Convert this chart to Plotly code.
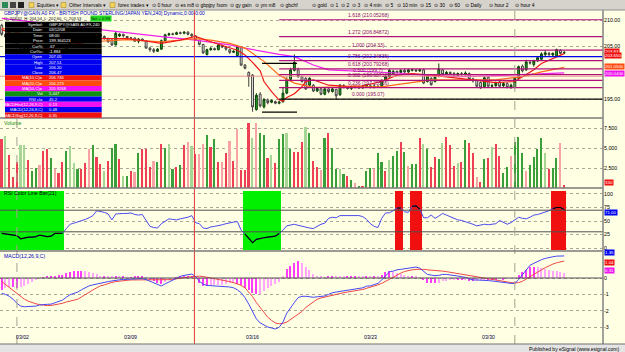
import plotly.graph_objects as go

W, H = 625, 352
PL, PR, PT, PB = 0, 603, 10, 344


def PX(x):
    return (x - PL) / (PR - PL)


def PY(y):
    return (PB - y) / (PB - PT)


# ---------------- data (4-hour bars, index 0..148) ----------------
opens = [209.0, 207.3, 206.8, 206.3, 205.9, 205.2, 204.6, 204.8, 204.4, 204.2, 204.5, 204.0, 204.1, 203.8, 204.0, 204.3, 204.1, 204.3, 205.1,
         205.7,
         205.7, 205.9, 206.1, 206.2, 206.5, 206.7, 207.2, 206.9, 206.5, 206.2, 205.3, 207.0, 207.3, 206.9, 206.6, 206.6, 206.0, 206.4, 206.1, 204.7,
         204.4, 204.1, 204.5, 206.1, 207.2, 207.4, 207.3, 207.6, 207.5, 207.7, 207.3, 207.0, 206.2, 205.4, 203.5, 204.4,
         204.6,
         204.4, 205.2, 204.9, 204.4, 203.9, 203.3, 204.8, 201.5, 200.1, 199.6, 193.1, 196.0, 193.6, 194.9, 194.5, 194.6, 194.3, 194.6, 196.2, 198.8,
         200.5, 200.6, 199.3, 199.0, 197.7, 197.7, 196.6, 197.0, 196.0, 197.0, 196.5, 196.9, 195.9, 197.6, 197.3, 197.1,
         197.4,
         197.4, 197.2, 197.5, 197.6, 197.3, 197.5, 197.5, 198.6, 199.3, 199.8, 200.3, 200.1, 200.5, 200.2, 200.5, 200.6, 200.4, 200.6, 198.4, 199.0,
         198.4, 199.4, 200.6, 199.8, 200.1, 199.9, 199.6, 199.9, 199.7, 199.9, 198.9, 198.6, 198.2, 197.4, 199.2,
         197.5,
         197.6, 198.3, 197.6, 198.0, 197.3, 197.4, 199.0, 201.3, 200.6, 202.0, 201.6, 202.3, 202.6, 203.5, 203.7, 203.4, 203.2, 204.3, 203.8]
highs = [209.3, 207.6, 207.1, 206.6, 206.2, 205.5, 205.1, 205.0, 204.7, 204.8, 204.7, 204.4, 204.3, 204.2, 204.5, 204.6, 204.5, 205.3, 205.9,
         206.0,
         206.1, 206.3, 206.4, 206.7, 206.9, 207.4, 207.4, 207.1, 206.7, 206.4, 207.9, 207.5, 207.4, 207.0, 206.8, 206.7, 206.6, 206.5, 206.2, 204.9,
         204.7, 204.7, 206.3, 207.4, 207.6, 207.6, 207.8, 207.8, 207.9, 207.9, 207.5, 207.1, 206.3, 205.5, 204.6, 204.9,
         204.8,
         205.5, 205.4, 205.0, 204.6, 204.3, 205.3, 205.0, 201.7, 200.3, 199.8, 196.2, 196.4, 195.3, 195.2, 195.0, 194.8, 194.7, 197.4, 199.2, 201.0,
         203.5, 201.0, 199.5, 199.2, 199.2, 197.9, 197.3, 197.2, 197.2, 197.3, 197.2, 197.0, 197.9, 197.9, 197.5, 197.6,
         197.6,
         197.6, 197.7, 197.9, 197.8, 197.8, 197.7, 198.8, 199.5, 200.8, 200.6, 200.5, 200.7, 200.8, 200.8, 200.9, 200.8, 200.8, 200.8, 199.7, 199.2,
         199.5, 201.8, 200.8, 200.4, 200.3, 200.2, 200.1, 200.2, 200.3, 200.1, 199.1, 198.8, 198.4, 199.4, 199.4,
         198.0,
         198.4, 198.6, 198.3, 198.2, 198.0, 199.2, 201.4, 201.6, 202.5, 202.4, 202.5, 203.2, 203.9, 204.3, 204.0, 203.9, 204.6, 204.5, 204.2]
lows = [207.0, 206.6, 206.0, 205.6, 205.0, 204.3, 204.3, 204.1, 203.9, 204.0, 203.8, 203.7, 203.5, 203.5, 203.8, 203.9, 203.9, 204.2, 204.9,
        205.4,
        205.4, 205.7, 205.8, 206.0, 206.3, 206.5, 206.7, 206.3, 205.7, 205.1, 205.2, 206.8, 206.7, 206.4, 206.4, 205.9, 205.6, 206.0, 204.6, 204.0,
        203.8, 204.0, 204.4, 206.0, 207.0, 207.1, 207.2, 207.3, 207.3, 207.1, 206.8, 206.1, 205.2, 203.6, 203.3, 204.2,
        204.3,
        204.3, 204.7, 204.2, 203.6, 203.8, 203.1, 201.3, 200.7, 197.4, 192.7, 192.9, 193.5, 193.3, 194.1, 194.3, 194.1, 194.1, 194.4, 196.0, 198.6,
        200.3, 199.1, 198.2, 196.8, 197.5, 196.4, 196.4, 195.8, 195.8, 196.2, 196.3, 195.0, 195.7, 197.1, 196.9, 196.8,
        197.1,
        197.0, 197.0, 197.3, 197.1, 197.1, 197.2, 197.3, 198.4, 199.1, 199.6, 199.9, 199.9, 200.0, 200.0, 200.3, 200.2, 200.2, 197.9, 198.2, 197.6,
        198.2, 199.2, 199.5, 199.6, 199.7, 199.4, 199.4, 199.5, 199.5, 198.6, 198.2, 197.3, 197.0, 197.2, 197.3,
        197.3,
        197.4, 197.3, 197.3, 197.1, 197.0, 197.1, 198.8, 200.1, 200.4, 201.6, 201.2, 202.1, 202.4, 203.1, 203.2, 203.1, 203.0, 203.5, 203.6]
closes = [207.3, 206.8, 206.3, 205.9, 205.2, 204.6, 204.8, 204.4, 204.2, 204.5, 204.0, 204.1, 203.8, 204.0, 204.3, 204.1, 204.3, 205.1, 205.7,
          205.7,
          205.9, 206.1, 206.2, 206.5, 206.7, 207.2, 206.9, 206.5, 205.9, 205.3, 207.5, 207.3, 207.0, 206.6, 206.6, 206.0, 206.4, 206.2, 204.7, 204.4,
          204.1, 204.5, 206.1, 207.2, 207.4, 207.3, 207.6, 207.5, 207.7, 207.3, 207.0, 206.3, 205.4, 203.8, 204.4, 204.6,
          204.4,
          205.3, 204.9, 204.5, 203.9, 204.1, 205.0, 201.5, 200.9, 199.3, 193.6, 195.8, 193.8, 195.0, 194.4, 194.8, 194.3, 194.5, 196.2, 198.8, 200.6,
          202.0, 199.3, 198.4, 197.0, 199.0, 196.6, 197.1, 196.0, 197.0, 196.5, 197.0, 195.7, 197.7, 197.3, 197.1, 197.4,
          197.4,
          197.2, 197.5, 197.6, 197.3, 197.5, 197.4, 198.6, 199.3, 200.5, 200.3, 200.1, 200.5, 200.2, 200.6, 200.6, 200.4, 200.6, 198.1, 199.4, 197.8,
          199.3, 200.8, 199.7, 200.1, 199.9, 199.6, 199.9, 199.7, 200.0, 198.8, 198.5, 197.5, 197.2, 199.1, 197.5,
          197.6,
          198.1, 197.5, 198.0, 197.3, 197.7, 199.0, 201.2, 200.4, 202.1, 201.9, 202.3, 202.9, 203.6, 203.8, 203.5, 203.7, 204.4, 203.7, 203.83]

volume = [6083, 6500, 4125, 1333, 3290, 5375, 5375, 3500, 2170, 2460, 2875, 4625, 4830, 3700, 2330, 1900, 3200, 4670, 5250, 3080,
          2330, 2330, 3170, 4830, 5375, 3830, 3000, 2125, 3420, 4960, 5460, 3580, 1500, 1540, 2125, 2040, 4330, 4875, 4875, 2670,
          3375, 3290, 5500, 4960, 5500, 2330, 2670, 2875, 5375, 5710, 5250, 4250, 4250, 5500, 6625, 5170, 6080, 3290, 3290, 4420,
          5920, 3420, 7375, 2250, 2250, 8170, 6210, 8080, 6830, 6625, 3790, 4125, 3170, 6080, 6710, 6920, 4875, 4460, 4460, 5710,
          7670, 6830, 3420, 2670, 2250, 6210, 6830, 5040, 2375, 2375, 1750, 1540, 1000, 580, 250, 290, 2125, 2460, 2330, 4330,
          3290, 2170, 3500, 4000, 4670, 5790, 4460, 2750, 3000, 3000, 6290, 5500, 4875, 2580, 3830, 3625, 5670, 6420, 5375, 2750,
          3080, 3290, 6000, 5580, 4330, 1420, 710, 3625, 3700, 5080, 5500, 4000, 1830, 2670, 4040, 5750, 6420, 4330, 2125, 2875,
          3830, 4875, 6210, 4420, 2375, 2540, 3700, 5580, 330]
volume_shade = ["r", "lg", "r", "r", "r", "lg", "lg", "r", "g", "g", "lr", "r", "r", "g", "lr", "r", "r", "g", "lg", "lg",
                "g", "r", "r", "lr", "g", "r", "r", "lg", "r", "g", "g", "r", "lg", "g", "r", "lr", "g", "r", "r", "r",
                "lr", "g", "r", "g", "lg", "g", "r", "g", "r", "lr", "lg", "r", "lr", "lr", "g", "r", "g", "r", "lr", "r",
                "lr", "r", "lr", "r", "r", "r", "lg", "lr", "g", "g", "r", "lg", "r", "g", "g", "lg", "g", "r", "r", "r",
                "lg", "g", "r", "r", "lr", "g", "r", "g", "g", "lg", "g", "r", "g", "lr", "g", "r", "g", "g", "lr", "g",
                "g", "r", "lg", "g", "g", "r", "g", "lr", "g", "g", "r", "lg", "g", "r", "r", "g", "lg", "r", "r", "r",
                "lg", "r", "g", "r", "r", "lr", "r", "g", "r", "lg", "r", "r", "g", "g", "lr", "g", "g", "g", "lr", "g",
                "g", "g", "g", "lg", "r", "g", "g", "lr", "r"]

rsi = [27, 26, 25, 25, 23, 17, 19, 20, 20, 21, 24, 22, 21, 22, 27, 27, 27, 36, 44, 46,
       48, 51, 53, 56, 60, 69, 68, 66, 63, 52, 63, 64, 64, 64, 65, 62, 61, 62, 50, 40,
       38, 37, 45, 50, 54, 53, 52, 54, 55, 57, 60, 47, 45, 37, 36, 39, 40,
       41, 43, 45, 47, 48, 49, 33, 26, 18, 10, 16, 18, 19, 20, 21, 22, 27, 33, 41, 43,
       44, 42, 40, 38, 37, 36, 40, 44, 46, 55, 57, 56, 60, 60, 60, 60, 60,
       60, 58, 53, 45, 40, 38, 55, 65, 65, 69, 74, 74, 67, 66, 77, 78, 72, 56, 56, 61,
       55, 59, 64, 61, 58, 55, 52, 51, 49, 46, 44, 41, 43, 44, 43, 44,
       45, 51, 48, 44, 47, 52, 57, 55, 54, 57, 61, 62, 64, 66, 69, 73, 75, 75, 71]

macd = [-0.94, -1.0, -1.12, -1.3, -1.55, -1.72, -1.76, -1.76, -1.76, -1.72, -1.65, -1.61, -1.61, -1.6, -1.52, -1.44, -1.35, -1.18, -1.02,
        -0.94,
        -0.86, -0.72, -0.6, -0.48, -0.42, -0.36, -0.33, -0.27, -0.22, -0.18, -0.13, -0.11, -0.09, -0.08, -0.06, -0.05, -0.04, -0.04,
        -0.1, -0.19, -0.3, -0.4, -0.49, -0.36, -0.25, -0.12, 0.0, 0.1, 0.16, 0.21, 0.24, 0.1, -0.2, -0.38, -0.45, -0.47,
        -0.48,
        -0.49, -0.51, -0.52, -0.55, -0.6, -0.72, -0.9, -1.2, -1.6, -2.05, -2.5, -2.75, -2.9, -3.0, -3.06, -3.12, -3.02, -2.7, -2.15,
        -1.8, -1.5, -1.2, -1.12, -1.12, -1.15, -1.18, -1.15, -1.12, -1.1, -1.0, -0.9, -0.86, -0.82, -0.78, -0.74, -0.7,
        -0.67,
        -0.65, -0.6, -0.5, -0.48, -0.4, -0.33, -0.12, 0.15, 0.38, 0.42, 0.5, 0.53, 0.57, 0.6, 0.65, 0.67, 0.6, 0.38, 0.22, 0.18,
        0.14, 0.16, 0.22, 0.22, 0.2, 0.18, 0.12, 0.08, 0.04, -0.05, -0.12, -0.12, -0.12, -0.12, -0.16,
        -0.18,
        -0.2, -0.22, -0.27, -0.3, -0.33, -0.33, -0.1, 0.18, 0.45, 0.78, 0.9, 1.02, 1.12, 1.2, 1.27, 1.3, 1.34, 1.35, 1.35]
macd_signal = [-0.22, -0.4, -0.58, -0.75, -0.95, -1.14, -1.3, -1.42, -1.51, -1.58, -1.63, -1.67, -1.69, -1.68, -1.65, -1.61, -1.55, -1.47, -1.4,
               -1.35,
               -1.3, -1.16, -1.0, -0.85, -0.73, -0.6, -0.48, -0.42, -0.33, -0.27, -0.22, -0.18, -0.16, -0.14, -0.12, -0.12, -0.12, -0.12,
               -0.12, -0.12, -0.12, -0.12, -0.12, -0.12, -0.12, -0.1, -0.05, -0.03, 0.02, 0.06, 0.09, 0.12, 0.11, 0.09, 0.05, 0.0,
               -0.03,
               -0.06, -0.1, -0.16, -0.22, -0.28, -0.35, -0.45, -0.6, -0.85, -1.14, -1.5, -1.8, -2.1, -2.4, -2.6, -2.75, -2.8, -2.78, -2.7,
               -2.55, -2.4, -2.25, -2.05, -1.8, -1.65, -1.45, -1.3, -1.22, -1.16, -1.1, -1.05, -1.0, -0.95, -0.9, -0.86, -0.82,
               -0.79,
               -0.76, -0.7, -0.63, -0.57, -0.5, -0.42, -0.33, -0.2, -0.05, 0.08, 0.2, 0.3, 0.4, 0.46, 0.5, 0.53, 0.55, 0.53, 0.5, 0.49,
               0.47, 0.45, 0.42, 0.39, 0.35, 0.3, 0.26, 0.22, 0.17, 0.12, 0.08, 0.04, 0.0, -0.04, -0.08,
               -0.1,
               -0.12, -0.16, -0.2, -0.24, -0.28, -0.3, -0.28, -0.2, -0.05, 0.08, 0.2, 0.35, 0.5, 0.63, 0.75, 0.85, 0.93, 1.0, 1.04]

ma10_bar = [0, 12, 20, 24, 29, 33, 38, 42, 47, 51, 55, 60, 62, 64, 66, 68, 69, 71, 73, 74, 75, 77, 79, 80, 82, 86, 91, 95,
            100, 104, 108, 113, 117, 121, 126, 130, 135, 137, 140, 142, 145, 148]
ma10_val = [208.2, 204.5, 205.4, 206.5, 206.5, 206.5, 206.0, 205.6, 206.2, 206.9, 205.9, 204.7, 204.3, 203.4, 202.0, 200.4, 198.4,
            196.5, 194.9, 194.7, 195.4, 196.1, 197.4, 198.4, 198.7, 197.7, 197.5, 197.6, 198.4, 199.6, 199.9, 199.6, 199.3, 199.0,
            198.5, 198.2, 198.4, 199.3, 200.6, 201.8, 202.8, 203.65]
ma20_bar = [0, 12, 20, 24, 33, 42, 51, 55, 60, 64, 69, 73, 77, 82, 91, 100, 104, 113, 121, 130, 137, 142, 148]
ma20_val = [208.5, 206.0, 205.6, 205.9, 206.3, 205.9, 206.5, 206.2, 205.6, 204.7, 202.2, 199.6, 198.1, 197.3, 197.4, 197.4,
            197.8, 198.7, 198.7, 198.7, 199.3, 200.2, 201.05]
ma50_bar = [0, 12, 24, 33, 42, 51, 60, 64, 69, 73, 77, 82, 86, 95, 104, 113, 121, 130, 140, 148]
ma50_val = [210.3, 209.3, 208.3, 207.5, 206.85, 206.2, 205.3, 204.7, 204.0, 203.5, 203.1, 201.5, 200.6, 200.3, 200.0, 199.5,
            199.3, 199.5, 199.8, 200.04]

fib_low, fib_high = 195.07, 204.33
fib_ratios = [0.0, 0.236, 0.382, 0.5, 0.618, 0.786, 1.0, 1.272, 1.618]
fib_start_bar = 73
hline_levels = [203.1, 199.4]
bracket_levels = [201.8, 192.6]
bracket_bars = [68.5, 77.7]

week_bars = [5.5, 34, 66, 97, 128]
week_labels = ["03/02", "03/09", "03/16", "03/23", "03/30"]
month_sep_bars = [4, 135]
cursor_bar = 50.7

bars = list(range(len(closes)))

# ---------------- styles ----------------
BG = "#FFFFE4"
FONT = "Liberation Sans"
VOL_COLORS = {"r": "#EE4055", "g": "#3A9E3A", "lr": "#F7A3A8", "lg": "#A6D596"}
X_RANGE = [-0.45, 158.2]

D_MACD = [0, PY(251)]
D_RSI = [PY(251), PY(188)]
D_VOL = [PY(188), PY(118)]
D_PRICE = [PY(118), 1]

fig = go.Figure()

# price
fig.add_trace(go.Candlestick(
    x=bars, open=opens, high=highs, low=lows, close=closes, yaxis="y4",
    increasing=dict(fillcolor="#1FA81F", line=dict(color="#0B3D0B", width=1)),
    decreasing=dict(fillcolor="#EEEEEE", line=dict(color="#404040", width=1)),
    whiskerwidth=0, showlegend=False, hoverinfo="skip"))
for bx, vals, col in [(ma50_bar, ma50_val, "#F020F0"), (ma20_bar, ma20_val, "#FF6A1A"), (ma10_bar, ma10_val, "#F01818")]:
    fig.add_trace(go.Scatter(x=bx, y=vals, mode="lines", yaxis="y4", line=dict(color=col, width=1.2),
                             showlegend=False, hoverinfo="skip"))

# volume
fig.add_trace(go.Bar(x=bars, y=volume, yaxis="y3", width=0.42,
                     marker=dict(color=[VOL_COLORS[s] for s in volume_shade], line=dict(width=0)),
                     showlegend=False, hoverinfo="skip"))

# RSI zone bars, derived from the RSI values
zone_x, zone_c = [], []
for i, v in enumerate(rsi):
    if v < 30:
        zone_x.append(i); zone_c.append("#00F000")
    elif v > 70:
        zone_x.append(i); zone_c.append("#F01010")
fig.add_trace(go.Bar(x=zone_x, y=[109.8] * len(zone_x), base=-3.7, width=1.0, yaxis="y2",
                     marker=dict(color=zone_c, line=dict(width=0)), showlegend=False, hoverinfo="skip"))
fig.add_trace(go.Scatter(x=bars, y=rsi, mode="lines", yaxis="y2", line=dict(color="#4B4BF0", width=1),
                         showlegend=False, hoverinfo="skip"))
rsi_zone_line = [v if (v < 30 or v > 70) else None for v in rsi]
fig.add_trace(go.Scatter(x=bars, y=rsi_zone_line, mode="lines", yaxis="y2", line=dict(color="#000000", width=1.2),
                         showlegend=False, hoverinfo="skip", connectgaps=False))

# MACD
hist = [round(m - s, 3) for m, s in zip(macd, macd_signal)]
hist_col = ["#FF3CFF" if (i == 0 or abs(h) >= abs(hist[i - 1])) else "#FFA6FF" for i, h in enumerate(hist)]
fig.add_trace(go.Bar(x=bars, y=hist, yaxis="y", width=0.32, marker=dict(color=hist_col, line=dict(width=0)),
                     showlegend=False, hoverinfo="skip"))
fig.add_trace(go.Scatter(x=bars, y=macd_signal, mode="lines", yaxis="y", line=dict(color="#F04545", width=1),
                         showlegend=False, hoverinfo="skip"))
fig.add_trace(go.Scatter(x=bars, y=macd, mode="lines", yaxis="y", line=dict(color="#4646F5", width=1),
                         showlegend=False, hoverinfo="skip"))

shapes = []
annotations = []

# fib levels
fib_levels = [fib_low + r * (fib_high - fib_low) for r in fib_ratios]
for r, v in zip(fib_ratios, fib_levels):
    col = "#000000" if r == 0 else "#B0107A"
    shapes.append(dict(type="line", xref="x", yref="y4", x0=fib_start_bar, x1=X_RANGE[1], y0=v, y1=v,
                       line=dict(color=col, width=1.2)))
    txt = f"{r:.3f} ({v:.5f}".rstrip("0").rstrip(".") + ")"
    annotations.append(dict(x=96.5, y=v, xref="x", yref="y4", text=txt, showarrow=False, yanchor="bottom",
                            yshift=0, font=dict(size=5, color="#8A0A6A", family=FONT)))
for lv, col in zip(hline_levels, ["#0000F0", "#E89090"]):
    shapes.append(dict(type="line", xref="paper", yref="y4", x0=0, x1=1, y0=lv, y1=lv,
                       line=dict(color=col, width=1.3 if col == "#0000F0" else 1)))
for lv in bracket_levels:
    shapes.append(dict(type="line", xref="x", yref="y4", x0=bracket_bars[0], x1=bracket_bars[1], y0=lv, y1=lv,
                       line=dict(color="#000000", width=1.2)))

# RSI guide lines and MACD zero
for lv in [70, 30]:
    shapes.append(dict(type="line", xref="paper", yref="y2", x0=0, x1=1, y0=lv, y1=lv,
                       line=dict(color="#505050", width=1)))
shapes.append(dict(type="line", xref="paper", yref="y", x0=0, x1=1, y0=0, y1=0, line=dict(color="#505050", width=1)))

# separators / verticals
for b in month_sep_bars:
    shapes.append(dict(type="line", xref="x", yref="paper", x0=b, x1=b, y0=0, y1=1,
                       line=dict(color="#A8A090", width=1, dash="dash")))
shapes.append(dict(type="line", xref="x", yref="paper", x0=cursor_bar, x1=cursor_bar, y0=0, y1=1,
                   line=dict(color="#E03A3A", width=1)))
for yy in [118, 188, 251]:
    shapes.append(dict(type="line", xref="paper", yref="paper", x0=0, x1=1, y0=PY(yy), y1=PY(yy),
                       line=dict(color="#7A7A7A", width=1.6)))
shapes.append(dict(type="line", xref="paper", yref="paper", x0=1, x1=1, y0=0, y1=1, line=dict(color="#8A8A8A", width=1.6)))

# toolbar and bottom strip
shapes.append(dict(type="rect", xref="paper", yref="paper", x0=0, x1=PX(625), y0=1, y1=PY(0), fillcolor="#D6D3CC",
                   line=dict(width=0), layer="above"))
shapes.append(dict(type="line", xref="paper", yref="paper", x0=0, x1=PX(625), y0=1, y1=1, line=dict(color="#8C8C8C", width=1),
                   layer="above"))
shapes.append(dict(type="rect", xref="paper", yref="paper", x0=0, x1=PX(625), y0=PY(352), y1=0, fillcolor="#E4E4E4",
                   line=dict(width=0), layer="above"))
shapes.append(dict(type="line", xref="paper", yref="paper", x0=0, x1=PX(625), y0=0, y1=0, line=dict(color="#707070", width=1.2),
                   layer="above"))

tool_items = [("Equities ▾", 35), ("Other Intervals ▾", 67), ("forex trades ▾", 116), ("⊙ 0 hour", 150), ("⊙ es m8", 173),
              ("⊙ gbpjpy fxom", 193), ("⊙ gy gain", 228), ("⊙ ym m8", 253), ("⊙ gbchf", 278), ("⊙ gold", 310),
              ("⊙ 1", 328), ("⊙ 2", 339), ("⊙ 3", 350), ("⊙ 4 min", 362), ("⊙ 5", 383), ("⊙ 10 min", 395), ("⊙ 15", 418),
              ("⊙ 30", 432), ("⊙ 60", 447), ("⊙ Daily", 463), ("⊙ hour 2", 487), ("⊙ hour 4", 513)]
for txt, xp in tool_items:
    annotations.append(dict(x=PX(xp), y=PY(5), xref="paper", yref="paper", text=txt, showarrow=False, xanchor="left",
                            yanchor="middle", font=dict(size=5, color="#000000", family=FONT)))
for xp, col in [(2, "#2E8B57"), (10, "#444444"), (18, "#222222")]:
    shapes.append(dict(type="rect", xref="paper", yref="paper", x0=PX(xp), x1=PX(xp + 6), y0=PY(8), y1=PY(2),
                       fillcolor=col, line=dict(width=0), layer="above"))
for xp in [29, 61, 110]:
    shapes.append(dict(type="rect", xref="paper", yref="paper", x0=PX(xp), x1=PX(xp + 5), y0=PY(7.5), y1=PY(2.5),
                       fillcolor="#F2D35A", line=dict(color="#A08020", width=0.5), layer="above"))
annotations.append(dict(x=PX(621), y=PY(348.5), xref="paper", yref="paper", text="Published by eSignal (www.esignal.com)",
                        showarrow=False, xanchor="right", yanchor="middle", font=dict(size=5, color="#000000", family=FONT)))

# title rows
annotations.append(dict(x=PX(2), y=PY(13.3), xref="paper", yref="paper",
                        text="GBPJPY@GAIN A0 FX - BRITISH POUND STERLING/JAPAN YEN,240] Dynamic,0:00-0:00",
                        showarrow=False, xanchor="left", yanchor="middle", font=dict(size=4.9, color="#0000C8", family=FONT)))
annotations.append(dict(x=PX(2), y=PY(18.6), xref="paper", yref="paper",
                        text="O: 203.42  H: 204.54  L: 202.60  C: 203.53",
                        showarrow=False, xanchor="left", yanchor="middle", font=dict(size=4.1, color="#000000", family=FONT)))
annotations.append(dict(x=PX(90), y=PY(18.6), xref="paper", yref="paper", text="Net + 0.93", showarrow=False,
                        xanchor="left", yanchor="middle", bgcolor="#22D822", borderpad=0,
                        font=dict(size=4.1, color="#003300", family=FONT)))

# cursor (data window) box
info_rows = [
    ("Symbol:", "GBPJPY@GAIN A0 FX,240", "#000000"), ("Date:", "03/12/08", "#000000"), ("Time:", "08:00", "#000000"),
    ("Price:", "199.364123", "#000000"), ("Cur%:", ".67", "#000000"), ("Cur%c:", "-1.884", "#000000"),
    ("Open", "207.05", "#0000F0"), ("High", "207.51", "#0000F0"), ("Low", "206.20", "#0000F0"), ("Close", "206.47", "#0000F0"),
    ("MA(10,C)=", "206.746", "#F01010"), ("MA(20,C)=", "206.273", "#FF4A10"), ("MA(50,C)=", "205.9268", "#F010F0"),
    ("Vol", "5,447", "#109010"), ("RSI cl=", "45.2", "#0000F0"), ("MACDHist(12,26,9,C)", "0.13", "#F010F0"),
    ("MACD(12,26,9,C)", "0.48", "#0000F0"), ("MACDSig(12,26,9,C)", "0.35", "#F01010")]
row_top = 21.7
row_h = [5.43] * 6 + [5.25] * 4 + [5.3] * 8
for (lab, val, col), h in zip(info_rows, row_h):
    shapes.append(dict(type="rect", xref="paper", yref="paper", x0=PX(5), x1=PX(101.7), y0=PY(row_top + h), y1=PY(row_top),
                       fillcolor=col, line=dict(width=0), layer="above"))
    yc = PY(row_top + h / 2)
    annotations.append(dict(x=PX(45), y=yc, xref="paper", yref="paper", text=lab, showarrow=False, xanchor="right",
                            yanchor="middle", font=dict(size=4.1, color="#FFFFFF", family=FONT)))
    annotations.append(dict(x=PX(46.5), y=yc, xref="paper", yref="paper", text=val, showarrow=False, xanchor="left",
                            yanchor="middle", font=dict(size=4.1, color="#FFFFFF", family=FONT)))
    row_top += h

# panel titles
annotations.append(dict(x=PX(2), y=PY(123), xref="paper", yref="paper", text="Volume", showarrow=False, xanchor="left",
                        yanchor="middle", font=dict(size=5.2, color="#108A10", family=FONT)))
annotations.append(dict(x=PX(2), y=PY(193.5), xref="paper", yref="paper", text="RSI Color Line Bar(21)", showarrow=False,
                        xanchor="left", yanchor="middle", font=dict(size=5.2, color="#000000", family=FONT)))
annotations.append(dict(x=PX(2), y=PY(256), xref="paper", yref="paper", text="MACD(12,26,9,C)", showarrow=False,
                        xanchor="left", yanchor="middle", font=dict(size=5.2, color="#0000C0", family=FONT)))

# week date labels
for b, t in zip(week_bars, week_labels):
    annotations.append(dict(x=b, y=PY(336.5), xref="x", yref="paper", text=t, showarrow=False, xanchor="center",
                            yanchor="middle", font=dict(size=5.2, color="#000040", family=FONT)))


# right side value tags
def tag(yref, y, text, bg, fg="#FFFFFF", shift=0):
    annotations.append(dict(x=1, y=y, xref="paper", yref=yref, text=text, showarrow=False, xanchor="left", yanchor="middle",
                            xshift=1, yshift=shift, bgcolor=bg, borderpad=0, font=dict(size=4.4, color=fg, family=FONT)))


tag("y4", closes[-1], f"{closes[-1]:.2f}", "#F01010", shift=1)
tag("y4", ma10_val[-1], f"{ma10_val[-1]:.3f}", "#F01010", shift=-2)
tag("y4", ma20_val[-1], f"{ma20_val[-1]:.4f}", "#FF4A10", shift=1)
tag("y4", ma50_val[-1], f"{ma50_val[-1]:.4f}", "#F010F0", shift=-1)
tag("y3", volume[-1], f"{volume[-1]}", "#F01010", shift=3)
tag("y2", rsi[-1], f"{rsi[-1]:.2f}", "#0000F0", shift=-3)
tag("y", macd[-1], f"{macd[-1]:.2f}", "#0000F0", shift=3)
tag("y", macd_signal[-1], f"{macd_signal[-1]:.2f}", "#F01010", shift=-1)
tag("y", hist[-1], f"{hist[-1]:.2f}", "#F010F0", shift=2)

tickfont = dict(size=5.3, color="#000000", family=FONT)
common_y = dict(side="right", anchor="x", showline=False, zeroline=False, ticks="", tickfont=tickfont,
                showgrid=True, gridcolor="#A8A898", griddash="dot", gridwidth=1, tickmode="array", fixedrange=True)

fig.update_layout(
    width=W, height=H, margin=dict(l=PL, r=W - PR, t=PT, b=H - PB),
    paper_bgcolor=BG, plot_bgcolor=BG, showlegend=False, barmode="overlay", bargap=0,
    font=dict(family=FONT),
    xaxis=dict(range=X_RANGE, showgrid=False, zeroline=False, showticklabels=False, ticks="", anchor="y",
               rangeslider=dict(visible=False), fixedrange=True),
    yaxis=dict(domain=D_MACD, range=[-4.04, 1.653], tickvals=[0, -1, -2, -3], ticktext=["0", "-1", "-2", "-3"], **common_y),
    yaxis2=dict(domain=D_RSI, range=[-5.56, 111.1], tickvals=[0, 25, 50, 75, 100],
                ticktext=["0", "25", "50", "75", "100"], **common_y),
    yaxis3=dict(domain=D_VOL, range=[0, 8750], tickvals=[2500, 5000, 7500], ticktext=["2,500", "5,000", "7,500"], **common_y),
    yaxis4=dict(domain=D_PRICE, range=[191.51, 211.89], tickvals=[195, 205, 210],
                ticktext=["195.00", "205.00", "210.00"], **common_y),
    shapes=shapes, annotations=annotations,
)

fig.write_html("out.html")
